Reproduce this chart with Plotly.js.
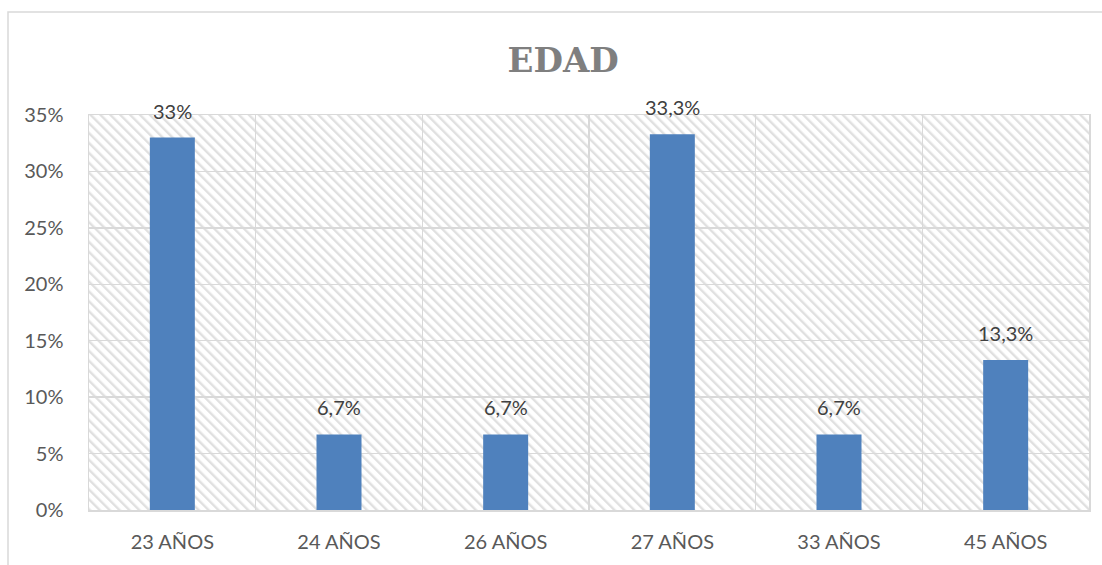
<!DOCTYPE html>
<html>
<head>
<meta charset="utf-8">
<script src="https://cdn.plot.ly/plotly-3.0.1.min.js"></script>
<style>html,body{margin:0;padding:0;background:#fff;}#chart{width:1102px;height:565px;}</style>
</head>
<body>
<div id="chart"></div>
<script>
var categories = ["23 AÑOS", "24 AÑOS", "26 AÑOS", "27 AÑOS", "33 AÑOS", "45 AÑOS"];
var values = [0.33, 0.067, 0.067, 0.333, 0.067, 0.133];
var valueLabels = ["33%", "6,7%", "6,7%", "33,3%", "6,7%", "13,3%"];
var yTickVals = [0, 0.05, 0.10, 0.15, 0.20, 0.25, 0.30, 0.35];
var yTickText = ["0%", "5%", "10%", "15%", "20%", "25%", "30%", "35%"];

var W = 1102, H = 565;
var m = {l: 89, r: 13, t: 115, b: 55};
var FONT = "Lato, 'Noto Sans', sans-serif";

var svg = "<svg xmlns='http://www.w3.org/2000/svg' width='1000' height='395'>" +
  "<defs><pattern id='p' width='7' height='7' patternUnits='userSpaceOnUse' patternTransform='rotate(-45)'>" +
  "<rect width='7' height='7' fill='#ffffff'/><rect width='2.4' height='7' fill='#e0e0e0'/></pattern></defs>" +
  "<rect width='1000' height='395' fill='url(#p)'/></svg>";
var svgUri = "data:image/svg+xml;charset=utf-8," + encodeURIComponent(svg);

var trace = {
  type: "bar",
  x: categories,
  y: values,
  marker: {color: "#4f81bd", line: {width: 0}},
  width: 0.27,
  hoverinfo: "x+y"
};

var annotations = categories.map(function (c, i) {
  return {
    x: c, y: values[i], xref: "x", yref: "y",
    text: valueLabels[i], showarrow: false,
    yanchor: "bottom", yshift: 13,
    font: {family: FONT, size: 20, color: "#404040"}
  };
});

var pw = W - m.l - m.r, ph = H - m.t - m.b;
var layout = {
  width: W, height: H,
  margin: m,
  paper_bgcolor: "#ffffff",
  plot_bgcolor: "rgba(0,0,0,0)",
  showlegend: false,
  title: {
    text: "<b>EDAD</b>",
    font: {family: "'DejaVu Serif', 'Liberation Serif', serif", size: 34, color: "#7f7f7f"},
    x: 0.511, xanchor: "center",
    y: 1 - 60 / H, yanchor: "middle", yref: "container"
  },
  xaxis: {
    type: "category",
    tickson: "boundaries",
    showgrid: true, gridcolor: "#d9d9d9", gridwidth: 1.5,
    showline: true, linecolor: "#d9d9d9", linewidth: 1.5, mirror: true,
    ticks: "", ticklabelstandoff: 13,
    tickfont: {family: FONT, size: 20, color: "#595959"},
    fixedrange: true
  },
  yaxis: {
    range: [0, 0.35],
    tickvals: yTickVals, ticktext: yTickText,
    showgrid: true, gridcolor: "#d9d9d9", gridwidth: 1.5,
    zeroline: false,
    showline: true, linecolor: "#d9d9d9", linewidth: 1.5, mirror: true,
    ticks: "", ticklabelstandoff: 20,
    tickfont: {family: FONT, size: 20, color: "#595959"},
    fixedrange: true
  },
  annotations: annotations,
  images: [{
    source: svgUri, xref: "paper", yref: "paper",
    x: 0, y: 1, sizex: 1, sizey: 1, xanchor: "left", yanchor: "top",
    sizing: "stretch", layer: "below"
  }],
  shapes: [{
    type: "rect", xref: "paper", yref: "paper",
    x0: (8 - m.l) / pw, x1: (W + 10 - m.l) / pw,
    y0: -(m.b + 10) / ph, y1: 1 + (m.t - 12) / ph,
    line: {color: "#d9d9d9", width: 1.5}, fillcolor: "rgba(0,0,0,0)", layer: "below"
  }]
};

Plotly.newPlot("chart", [trace], layout, {displayModeBar: false, staticPlot: true});
</script>
</body>
</html>
